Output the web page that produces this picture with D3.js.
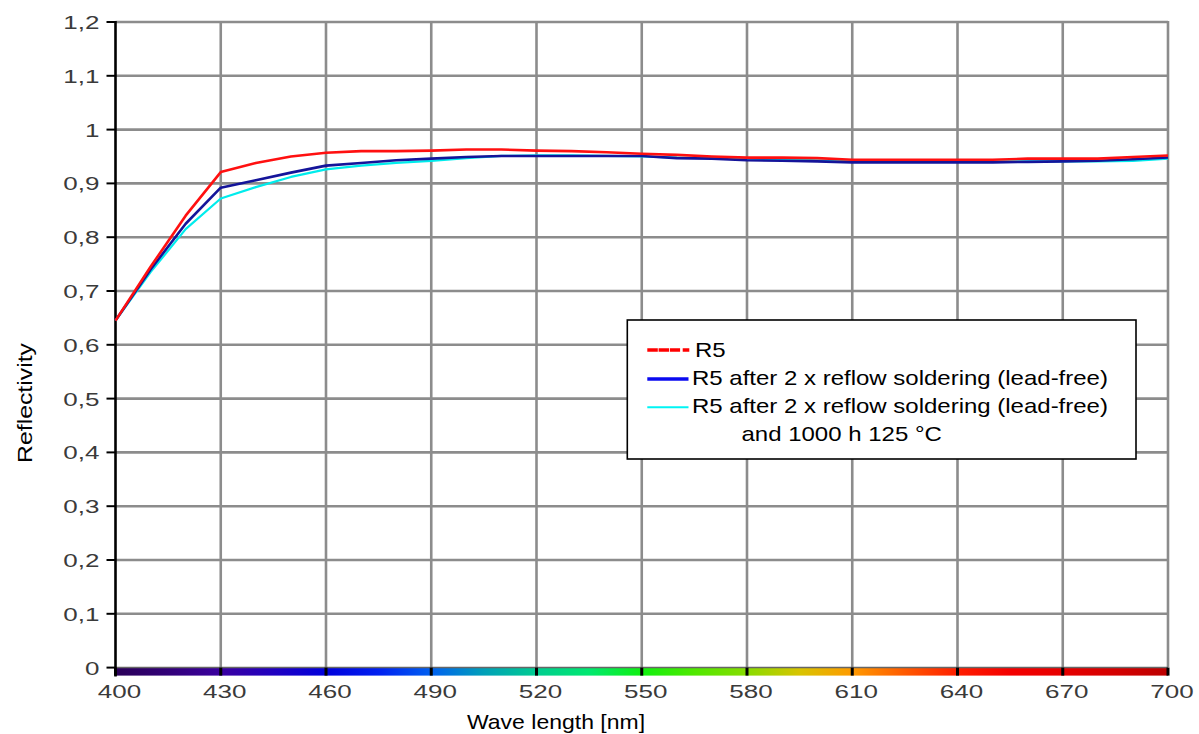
<!DOCTYPE html>
<html><head><meta charset="utf-8">
<script src="https://cdn.jsdelivr.net/npm/d3@7"></script>
<style>
body{margin:0;background:#fff}
svg{display:block}
text{font-family:"Liberation Sans",Arial,Helvetica,sans-serif}
</style>
</head><body>
<svg id="chart" width="1199" height="734"></svg>
<script>
// ---- data ----
const wavelengths = [400,410,420,430,440,450,460,470,480,490,500,510,520,530,540,550,560,570,580,590,600,610,620,630,640,650,660,670,680,690,700];
const r5 =          [0.645,0.745,0.840,0.921,0.938,0.950,0.957,0.960,0.960,0.961,0.963,0.963,0.961,0.960,0.958,0.955,0.953,0.950,0.948,0.948,0.947,0.944,0.944,0.944,0.944,0.944,0.946,0.946,0.946,0.949,0.952];
const r5Reflow =    [0.645,0.740,0.825,0.892,0.906,0.920,0.933,0.938,0.943,0.946,0.949,0.951,0.951,0.951,0.951,0.951,0.947,0.946,0.943,0.942,0.941,0.939,0.939,0.939,0.939,0.939,0.940,0.941,0.942,0.945,0.948];
const r5ReflowAged =[0.645,0.735,0.815,0.872,0.893,0.912,0.926,0.933,0.938,0.942,0.947,0.951,0.952,0.952,0.951,0.950,0.948,0.947,0.946,0.945,0.943,0.941,0.941,0.941,0.941,0.941,0.941,0.941,0.941,0.942,0.946];
const xTicks = [400,430,460,490,520,550,580,610,640,670,700];
const yTicks = [0,0.1,0.2,0.3,0.4,0.5,0.6,0.7,0.8,0.9,1,1.1,1.2];
const legendLabels = ["R5","R5 after 2 x reflow soldering (lead-free)","R5 after 2 x reflow soldering (lead-free)","and 1000 h 125 °C"];
const spectrumWl =  [400,415,430,445,460,475,490,505,520,535,550,565,580,595,610,625,640,655,670,685,700];
const spectrumCol = ["#2a0058","#320078","#3a00a0","#2000c0","#0000dc","#0020f0","#0060f0","#00a0b8","#00cc90","#00e870","#10f010","#50e800","#88dc00","#d8c400","#ff9a00","#ff5a00","#ff1e00","#f40000","#e60000","#d40000","#bb0000"];

// ---- layout ----
const svg = d3.select("#chart");
const x = d3.scaleLinear().domain([400,700]).range([115.5,1168]);
const y = d3.scaleLinear().domain([0,1.2]).range([667.6,22]);
const barH = 8;

// gradient for spectrum bar
const defs = svg.append("defs");
const grad = defs.append("linearGradient").attr("id","spec")
  .attr("gradientUnits","userSpaceOnUse")
  .attr("x1",x(400)).attr("x2",x(700)).attr("y1",0).attr("y2",0);
grad.selectAll("stop").data(spectrumWl).join("stop")
  .attr("offset",d=>(x(d)-x(400))/(x(700)-x(400)))
  .attr("stop-color",(d,i)=>spectrumCol[i]);

// grid
const grid = svg.append("g").attr("stroke","#8c8c8c").attr("stroke-width",2.6);
grid.selectAll("line.h").data(yTicks.filter(d=>d>0)).join("line").attr("class","h")
  .attr("x1",x(400)).attr("x2",x(700)).attr("y1",d=>y(d)).attr("y2",d=>y(d));
grid.selectAll("line.v").data(xTicks.filter(d=>d>400)).join("line").attr("class","v")
  .attr("x1",d=>x(d)).attr("x2",d=>x(d)).attr("y1",y(1.2)-1).attr("y2",y(0));

// spectrum bar + x axis
svg.append("rect").attr("x",x(400)).attr("y",y(0)).attr("width",x(700)-x(400)).attr("height",barH)
  .attr("fill","url(#spec)");
svg.append("line").attr("x1",x(400)).attr("x2",x(700)).attr("y1",y(0)).attr("y2",y(0))
  .attr("stroke","#666").attr("stroke-width",1.5);
svg.append("g").selectAll("rect").data(xTicks).join("rect")
  .attr("x",d=>x(d)-1.5).attr("y",y(0)).attr("width",3).attr("height",barH).attr("fill","#000");

// y axis
svg.append("line").attr("x1",x(400)).attr("x2",x(400)).attr("y1",y(1.2)-1).attr("y2",y(0)+barH+1)
  .attr("stroke","#000").attr("stroke-width",2.6);
svg.append("g").selectAll("line").data(yTicks).join("line")
  .attr("x1",x(400)-9).attr("x2",x(400)).attr("y1",d=>y(d)).attr("y2",d=>y(d))
  .attr("stroke","#000").attr("stroke-width",2);

// tick labels
const fmt = d => (+d.toFixed(1)).toString().replace(".",",");
svg.append("g").selectAll("text").data(yTicks).join("text")
  .attr("transform",d=>`translate(${x(400)-16},${y(d)+7}) scale(1.37,1)`)
  .attr("text-anchor","end").attr("font-size",19).attr("fill","#3a3a3a")
  .text(fmt);
svg.append("g").selectAll("text").data(xTicks).join("text")
  .attr("transform",d=>`translate(${x(d)+4},${y(0)+30.5}) scale(1.37,1)`)
  .attr("text-anchor","middle").attr("font-size",19).attr("fill","#3a3a3a")
  .text(d=>d);

// axis titles
svg.append("text").attr("transform","translate(556,729) scale(1.15,1)")
  .attr("text-anchor","middle").attr("font-size",20).attr("fill","#000").text("Wave length [nm]");
svg.append("text").attr("transform","translate(32,403) rotate(-90) scale(1.24,1)")
  .attr("text-anchor","middle").attr("font-size",20).attr("fill","#000").text("Reflectivity");

// series
const series = [
  {vals:r5ReflowAged, color:"#00ecec", w:2.2},
  {vals:r5Reflow, color:"#14149a", w:2.6},
  {vals:r5, color:"#ff1010", w:2.6}
];
const line = d3.line().x((d,i)=>x(wavelengths[i])).y(d=>y(d)).curve(d3.curveLinear);
svg.append("g").selectAll("path").data(series).join("path")
  .attr("d",s=>line(s.vals)).attr("fill","none")
  .attr("stroke",s=>s.color).attr("stroke-width",s=>s.w).attr("stroke-linejoin","round");

// legend
const lg = svg.append("g");
lg.append("rect").attr("x",627.3).attr("y",320).attr("width",508.7).attr("height",139)
  .attr("fill","#fff").attr("stroke","#000").attr("stroke-width",1.6);
lg.append("line").attr("x1",647.3).attr("x2",689.3).attr("y1",350).attr("y2",350)
  .attr("stroke","#ff0000").attr("stroke-width",3.6).attr("stroke-dasharray","10.5,0.8,10.5,0.8,10.2,2.6,6.6");
lg.append("line").attr("x1",647.3).attr("x2",688.5).attr("y1",379).attr("y2",379)
  .attr("stroke","#0a0af0").attr("stroke-width",3.6);
lg.append("line").attr("x1",647.3).attr("x2",688.5).attr("y1",407.3).attr("y2",407.3)
  .attr("stroke","#00f4f4").attr("stroke-width",2);
const lx = [695,692,692,741.5], ly = [357,385,413,441];
lg.selectAll("text").data(legendLabels).join("text")
  .attr("transform",(d,i)=>`translate(${lx[i]},${ly[i]}) scale(1.2,1)`)
  .attr("font-size",20).attr("fill","#000").text(d=>d);
</script>
</body></html>
